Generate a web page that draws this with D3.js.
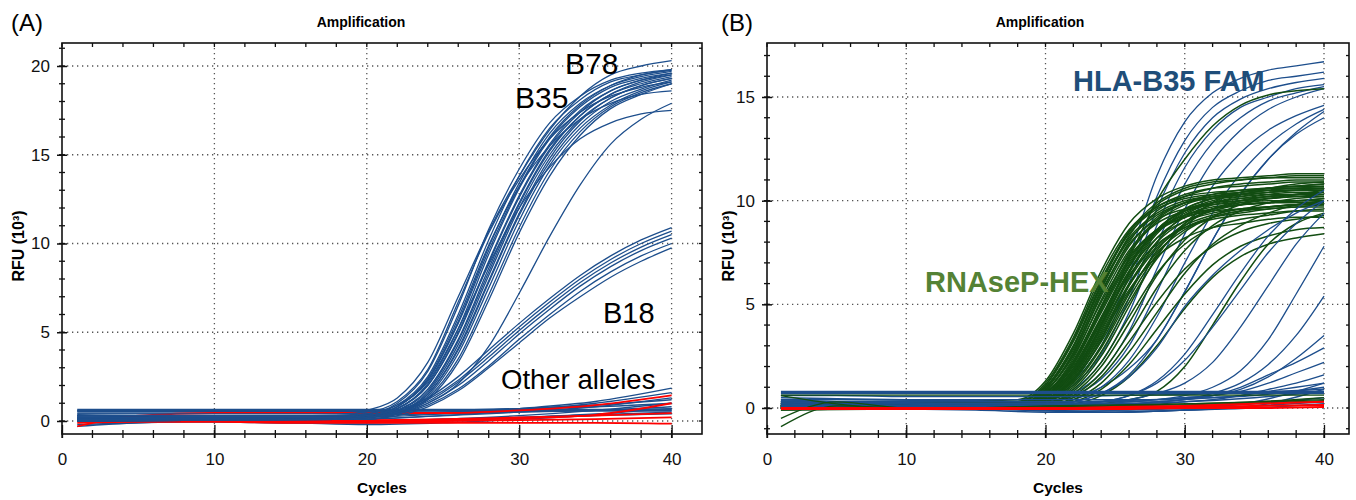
<!DOCTYPE html>
<html>
<head>
<meta charset="utf-8">
<script src="https://cdn.jsdelivr.net/npm/d3@7"></script>
<style>
  body { margin: 0; background: #fff; }
  svg { display: block; font-family: "Liberation Sans Narrow", "Arial Narrow", "Liberation Sans", Arial, sans-serif; }
  .big { font-family: "Liberation Sans", Arial, sans-serif; }
</style>
</head>
<body>
<svg id="chart" width="1356" height="500"></svg>
<script>
// ---- data (RFU x 10^3) ----
const xTicks = [0, 10, 20, 30, 40];
const yTicksA = [0, 5, 10, 15, 20];
const yTicksB = [0, 5, 10, 15];

const cyclesGrowth = [1, 18, 20, 22, 24, 26, 28, 30, 32, 34, 36, 38, 40];
const cyclesFlat = [1, 5, 10, 15, 20, 25, 30, 35, 40];

// panel A: B35 / B78 curves (on cyclesGrowth)
const b35Curves = [
  [0.1, 0.2, 0.6, 1.3, 3.3, 7.0, 10.7, 13.8, 16.4, 18.3, 19.5, 20.0, 20.3],
  [0.3, 0.3, 0.4, 1.0, 2.8, 6.5, 10.8, 14.2, 16.8, 18.3, 19.2, 19.6, 19.8],
  [0.3, 0.3, 0.4, 0.9, 2.5, 6.0, 10.2, 13.8, 16.5, 18.1, 19.1, 19.5, 19.75],
  [0.2, 0.2, 0.3, 0.8, 2.3, 5.6, 9.8, 13.4, 16.2, 17.9, 18.9, 19.4, 19.7],
  [0.2, 0.2, 0.3, 0.7, 2.1, 5.2, 9.4, 13.1, 15.9, 17.7, 18.8, 19.3, 19.6],
  [0.1, 0.2, 0.3, 0.7, 2.0, 5.0, 9.0, 12.7, 15.6, 17.5, 18.6, 19.2, 19.5],
  [0.1, 0.1, 0.2, 0.6, 1.8, 4.6, 8.6, 12.3, 15.3, 17.2, 18.4, 19.0, 19.4],
  [0.1, 0.1, 0.2, 0.5, 1.6, 4.3, 8.2, 12.0, 15.0, 17.0, 18.2, 18.9, 19.3],
  [0.0, 0.1, 0.2, 0.5, 1.5, 4.0, 7.8, 11.6, 14.6, 16.7, 18.0, 18.7, 19.2],
  [0.0, 0.1, 0.2, 0.5, 1.4, 3.8, 7.5, 11.3, 14.4, 16.5, 17.8, 18.6, 19.1],
  [0.0, 0.1, 0.1, 0.4, 1.3, 3.5, 7.1, 10.9, 14.1, 16.3, 17.7, 18.5, 19.0],
  [0.0, 0.1, 0.1, 0.4, 1.2, 3.3, 6.8, 10.6, 13.8, 16.1, 17.6, 18.4, 19.0],
  [0.4, 0.4, 0.5, 1.1, 2.9, 6.7, 10.6, 13.6, 15.9, 17.4, 18.3, 18.8, 19.1],
  [0.2, 0.2, 0.3, 0.8, 2.4, 5.8, 9.9, 13.2, 15.5, 17.0, 17.9, 18.4, 18.6],
  [0.3, 0.3, 0.4, 0.9, 2.2, 5.2, 8.8, 12.0, 14.3, 15.9, 16.8, 17.3, 17.5],
  [0.2, 0.2, 0.2, 0.4, 1.0, 2.1, 4.2, 7.2, 10.4, 13.3, 15.6, 17.0, 17.9],
  [0.2, 0.2, 0.3, 0.8, 2.3, 5.5, 9.6, 13.2, 16.0, 17.8, 18.9, 19.5, 19.8],
  [0.1, 0.2, 0.3, 0.7, 2.0, 4.9, 8.9, 12.6, 15.5, 17.4, 18.6, 19.2, 19.6],
  [0.1, 0.1, 0.2, 0.6, 1.7, 4.5, 8.4, 12.2, 15.2, 17.2, 18.4, 19.1, 19.5],
  [0.0, 0.1, 0.2, 0.5, 1.5, 4.1, 7.9, 11.7, 14.8, 16.9, 18.2, 18.9, 19.3]
];
// panel A: B18 curves (on cyclesGrowth)
const b18Curves = [
  [0.2, 0.2, 0.3, 0.6, 1.3, 2.5, 4.0, 5.5, 6.9, 8.2, 9.3, 10.2, 10.9],
  [0.2, 0.2, 0.3, 0.5, 1.2, 2.3, 3.8, 5.3, 6.7, 8.0, 9.1, 10.0, 10.7],
  [0.1, 0.1, 0.2, 0.5, 1.1, 2.2, 3.6, 5.1, 6.5, 7.8, 8.9, 9.8, 10.5],
  [0.1, 0.1, 0.2, 0.4, 1.0, 2.0, 3.4, 4.9, 6.3, 7.6, 8.7, 9.6, 10.3],
  [0.1, 0.1, 0.2, 0.4, 0.9, 1.8, 3.1, 4.6, 6.0, 7.3, 8.4, 9.3, 10.0],
  [0.0, 0.1, 0.1, 0.3, 0.8, 1.7, 3.0, 4.4, 5.8, 7.0, 8.1, 9.0, 9.75]
];
// panel A: other alleles, blue (on cyclesFlat)
const otherBlueA = [
  [0.6, 0.6, 0.6, 0.6, 0.6, 0.6, 0.6, 0.6, 0.6],
  [0.55, 0.55, 0.55, 0.55, 0.55, 0.6, 0.7, 0.8, 1.0],
  [0.3, 0.25, 0.2, 0.2, 0.3, 0.5, 0.7, 0.9, 1.2],
  [0.2, 0.15, 0.1, 0.1, 0.2, 0.4, 0.7, 1.1, 1.85],
  [0.1, 0.1, 0.05, 0.0, 0.1, 0.3, 0.6, 1.0, 1.6],
  [-0.3, -0.1, 0.0, 0.0, 0.1, 0.3, 0.5, 0.8, 1.3],
  [0.0, 0.0, -0.05, -0.1, -0.1, 0.1, 0.3, 0.6, 1.0],
  [0.2, 0.1, 0.0, -0.1, -0.1, 0.0, 0.2, 0.4, 0.7],
  [0.35, 0.3, 0.3, 0.3, 0.35, 0.4, 0.5, 0.6, 0.8],
  [0.05, 0.0, 0.0, 0.0, 0.0, 0.1, 0.2, 0.35, 0.5],
  [0.45, 0.45, 0.45, 0.45, 0.45, 0.5, 0.55, 0.6, 0.7],
  [-0.2, -0.1, -0.05, -0.1, -0.2, -0.1, 0.1, 0.3, 0.4]
];
// panel A: red traces (on cyclesFlat)
const redA = [
  [-0.3, 0.3, 0.45, 0.45, 0.45, 0.45, 0.6, 0.9, 1.45],
  [0.0, 0.0, 0.0, 0.0, 0.0, 0.0, 0.05, 0.1, 0.2],
  [-0.1, -0.05, -0.05, -0.1, -0.1, -0.1, -0.1, -0.1, -0.15],
  [0.05, 0.05, 0.05, 0.05, 0.05, 0.1, 0.2, 0.3, 0.45],
  [0.1, 0.05, 0.0, 0.0, 0.0, 0.05, 0.15, 0.35, 1.0]
];

// panel B: RNAseP-HEX, green (on cyclesGrowth)
const hexCurves = [
  [0.2, 0.4, 1.3, 3.6, 6.6, 8.9, 10.1, 10.7, 11.0, 11.1, 11.2, 11.3, 11.3],
  [0.1, 0.3, 1.1, 3.3, 6.2, 8.5, 9.7, 10.3, 10.6, 10.7, 10.8, 10.9, 10.9],
  [0.0, 0.3, 1.0, 3.0, 5.9, 8.2, 9.4, 10.0, 10.2, 10.3, 10.4, 10.5, 10.5],
  [0.2, 0.2, 0.9, 2.8, 5.6, 7.9, 9.1, 9.6, 9.9, 10.0, 10.1, 10.2, 10.2],
  [0.1, 0.2, 0.8, 2.6, 5.5, 8.0, 9.5, 10.2, 10.6, 10.8, 10.9, 11.0, 11.0],
  [-0.1, 0.2, 0.8, 2.5, 5.1, 7.3, 8.6, 9.2, 9.5, 9.6, 9.7, 9.8, 9.8],
  [0.3, 0.2, 0.7, 2.3, 4.9, 7.4, 9.0, 9.8, 10.2, 10.4, 10.6, 10.7, 10.7],
  [0.0, 0.1, 0.6, 2.1, 4.6, 7.0, 8.5, 9.2, 9.6, 9.8, 9.9, 10.0, 10.0],
  [0.1, 0.1, 0.6, 2.0, 4.4, 6.9, 8.6, 9.5, 9.9, 10.1, 10.3, 10.4, 10.4],
  [0.2, 0.1, 0.5, 1.8, 4.1, 6.4, 7.9, 8.7, 9.1, 9.3, 9.4, 9.5, 9.5],
  [0.0, 0.1, 0.5, 1.7, 4.0, 6.6, 8.5, 9.6, 10.1, 10.4, 10.6, 10.7, 10.8],
  [0.1, 0.1, 0.4, 1.5, 3.7, 6.2, 8.0, 9.0, 9.5, 9.8, 9.9, 10.0, 10.1],
  [-0.1, 0.0, 0.4, 1.4, 3.4, 5.7, 7.3, 8.2, 8.7, 8.9, 9.1, 9.2, 9.2],
  [0.2, 0.1, 0.4, 1.3, 3.3, 5.9, 8.0, 9.3, 9.9, 10.2, 10.4, 10.5, 10.6],
  [0.0, 0.0, 0.3, 1.2, 3.0, 5.5, 7.6, 8.9, 9.6, 9.9, 10.1, 10.2, 10.3],
  [0.1, 0.0, 0.3, 1.0, 2.7, 5.1, 7.2, 8.5, 9.2, 9.5, 9.7, 9.8, 9.9],
  [0.0, 0.0, 0.3, 0.9, 2.5, 4.9, 7.3, 8.9, 9.9, 10.4, 10.6, 10.8, 10.9],
  [0.1, 0.0, 0.2, 0.8, 2.2, 4.4, 6.5, 7.9, 8.7, 9.1, 9.3, 9.5, 9.6],
  [0.0, 0.0, 0.2, 0.7, 2.0, 4.1, 6.4, 8.1, 9.2, 9.8, 10.1, 10.3, 10.5],
  [0.2, 0.0, 0.2, 0.6, 1.7, 3.6, 5.8, 7.6, 8.8, 9.5, 9.9, 10.1, 10.2],
  [0.0, 0.0, 0.1, 0.5, 1.5, 3.2, 5.1, 6.7, 7.8, 8.5, 8.9, 9.1, 9.3],
  [0.1, 0.0, 0.1, 0.4, 1.2, 2.7, 4.6, 6.5, 7.9, 8.8, 9.4, 9.8, 10.0],
  [0.0, 0.0, 0.1, 0.3, 0.9, 2.1, 3.8, 5.5, 6.9, 7.8, 8.3, 8.6, 8.7],
  [0.1, 0.3, 1.0, 3.0, 6.0, 8.5, 9.9, 10.6, 10.9, 11.0, 11.1, 11.1, 11.1],
  [0.0, 0.2, 0.7, 2.2, 4.8, 7.2, 8.6, 9.3, 9.6, 9.8, 9.9, 9.9, 9.9],
  [0.1, 0.2, 0.6, 1.9, 4.3, 6.8, 8.6, 9.6, 10.1, 10.3, 10.5, 10.6, 10.6],
  [0.0, 0.1, 0.5, 1.6, 3.8, 6.3, 8.2, 9.2, 9.8, 10.0, 10.2, 10.3, 10.3],
  [0.1, 0.1, 0.4, 1.4, 3.5, 5.9, 7.7, 8.7, 9.2, 9.4, 9.6, 9.7, 9.7],
  [0.0, 0.0, 0.0, 0.1, 0.2, 0.4, 0.8, 2.0, 4.0, 6.1, 7.9, 8.9, 9.4],
  [0.0, 0.0, 0.1, 0.2, 0.6, 1.5, 3.0, 4.8, 6.3, 7.3, 7.9, 8.2, 8.4],
  [0.1, 0.2, 0.6, 1.7, 4.0, 7.2, 10.0, 12.0, 13.6, 14.6, 15.1, 15.3, 15.4],
  [0.1, 0.3, 1.2, 3.4, 6.4, 8.6, 9.7, 10.2, 10.4, 10.5, 10.6, 10.6, 10.6],
  [0.0, 0.2, 0.9, 2.9, 5.8, 8.1, 9.3, 9.9, 10.1, 10.2, 10.3, 10.3, 10.4],
  [0.1, 0.2, 0.8, 2.7, 5.7, 8.3, 9.8, 10.5, 10.8, 11.0, 11.1, 11.2, 11.2],
  [0.0, 0.2, 0.7, 2.4, 5.2, 7.6, 8.9, 9.5, 9.8, 9.9, 10.0, 10.0, 10.1],
  [0.1, 0.1, 0.6, 2.2, 4.9, 7.5, 9.1, 9.9, 10.3, 10.5, 10.6, 10.7, 10.8],
  [0.0, 0.1, 0.6, 2.1, 4.7, 7.1, 8.6, 9.3, 9.7, 9.8, 9.9, 10.0, 10.0],
  [0.1, 0.1, 0.5, 1.9, 4.3, 6.8, 8.5, 9.4, 9.9, 10.1, 10.2, 10.3, 10.4],
  [0.0, 0.1, 0.5, 1.8, 4.2, 6.6, 8.2, 9.0, 9.4, 9.6, 9.7, 9.8, 9.8],
  [0.1, 0.1, 0.4, 1.6, 3.9, 6.5, 8.4, 9.5, 10.0, 10.3, 10.5, 10.6, 10.7],
  [0.0, 0.1, 0.4, 1.5, 3.6, 6.0, 7.8, 8.8, 9.3, 9.6, 9.7, 9.8, 9.9],
  [0.1, 0.0, 0.3, 1.3, 3.2, 5.6, 7.5, 8.6, 9.2, 9.5, 9.6, 9.7, 9.8],
  [0.0, 0.0, 0.3, 1.1, 2.9, 5.3, 7.4, 8.8, 9.6, 10.0, 10.2, 10.3, 10.4],
  [0.1, 0.3, 1.1, 3.2, 6.1, 8.4, 9.6, 10.1, 10.3, 10.4, 10.5, 10.5, 10.5],
  [0.0, 0.2, 0.8, 2.6, 5.4, 7.8, 9.2, 9.9, 10.2, 10.3, 10.4, 10.5, 10.5]
];
// panel B: HLA-B35 FAM, blue (on cyclesGrowth)
const famCurves = [
  [0.3, 0.4, 0.8, 1.8, 4.0, 7.3, 11.2, 13.8, 15.2, 15.9, 16.3, 16.5, 16.7],
  [0.3, 0.3, 0.6, 1.4, 3.3, 6.5, 10.2, 12.9, 14.5, 15.3, 15.8, 16.0, 16.2],
  [0.2, 0.3, 0.6, 1.3, 3.0, 6.0, 9.6, 12.3, 14.0, 14.9, 15.4, 15.7, 15.9],
  [0.2, 0.2, 0.5, 1.1, 2.6, 5.3, 8.8, 11.6, 13.4, 14.5, 15.0, 15.4, 15.6],
  [0.3, 0.2, 0.4, 0.9, 2.2, 4.6, 7.9, 10.8, 12.8, 14.0, 14.8, 15.2, 15.5],
  [0.2, 0.2, 0.3, 0.7, 1.7, 3.7, 6.7, 9.6, 11.9, 13.4, 14.4, 15.0, 15.4],
  [0.2, 0.1, 0.3, 0.6, 1.4, 3.0, 5.6, 8.4, 10.7, 12.3, 13.4, 14.1, 14.6],
  [0.1, 0.1, 0.2, 0.4, 1.0, 2.3, 4.4, 7.0, 9.4, 11.3, 12.7, 13.7, 14.4],
  [0.1, 0.1, 0.2, 0.3, 0.7, 1.6, 3.3, 5.6, 8.1, 10.3, 12.0, 13.3, 14.3],
  [0.2, 0.2, 0.3, 0.5, 1.0, 1.9, 3.3, 5.6, 8.1, 10.3, 12.0, 13.2, 14.0],
  [0.1, 0.1, 0.1, 0.2, 0.3, 0.6, 1.3, 2.6, 4.5, 6.5, 8.3, 9.6, 10.5],
  [0.1, 0.1, 0.1, 0.2, 0.3, 0.6, 1.2, 2.3, 3.9, 5.7, 7.5, 8.9, 10.0],
  [0.1, 0.1, 0.1, 0.3, 0.7, 1.5, 2.9, 4.9, 6.4, 7.6, 8.6, 9.4, 10.0],
  [0.2, 0.2, 0.2, 0.2, 0.3, 0.4, 0.7, 1.2, 2.2, 3.9, 5.9, 7.9, 9.4],
  [0.2, 0.2, 0.2, 0.2, 0.2, 0.3, 0.4, 0.6, 1.0, 1.8, 3.3, 5.5, 7.8],
  [0.1, 0.1, 0.1, 0.1, 0.2, 0.2, 0.3, 0.4, 0.7, 1.2, 2.1, 3.5, 5.4],
  [0.3, 0.3, 0.3, 0.3, 0.3, 0.3, 0.4, 0.5, 0.6, 0.9, 1.5, 2.4, 3.5],
  [0.2, 0.2, 0.2, 0.2, 0.2, 0.2, 0.3, 0.4, 0.6, 1.0, 1.6, 2.2, 2.9],
  [0.4, 0.4, 0.4, 0.4, 0.4, 0.4, 0.4, 0.5, 0.6, 0.8, 1.2, 1.7, 2.2],
  [0.1, 0.1, 0.1, 0.1, 0.1, 0.2, 0.2, 0.3, 0.4, 0.6, 0.9, 1.2, 1.6],
  [0.3, 0.3, 0.3, 0.3, 0.3, 0.3, 0.3, 0.4, 0.5, 0.6, 0.8, 1.0, 1.2]
];
// panel B: flat traces (on cyclesFlat)
const flatBlueB = [
  [0.4, 0.3, 0.2, 0.1, 0.0, -0.1, 0.0, 0.2, 0.5],
  [0.3, 0.2, 0.1, 0.0, -0.1, -0.2, -0.1, 0.1, 0.3],
  [0.2, 0.1, 0.0, 0.0, -0.15, -0.2, -0.1, 0.1, 0.9],
  [0.1, 0.05, 0.0, -0.05, -0.1, -0.1, 0.0, 0.3, 1.2],
  [0.35, 0.3, 0.25, 0.2, 0.2, 0.2, 0.3, 0.5, 0.8],
  [0.5, 0.45, 0.4, 0.35, 0.3, 0.35, 0.45, 0.6, 1.0],
  [0.6, 0.6, 0.55, 0.55, 0.55, 0.6, 0.65, 0.75, 0.9],
  [0.0, 0.0, -0.05, -0.1, -0.2, -0.2, -0.1, 0.0, 0.2],
  [0.75, 0.75, 0.75, 0.75, 0.75, 0.75, 0.75, 0.75, 0.75]
];
const flatGreenB = [
  [0.62, 0.62, 0.62, 0.62, 0.62, 0.62, 0.62, 0.62, 0.62],
  [-0.9, 0.1, 0.0, -0.05, 0.0, 0.1, 0.2, 0.3, 0.4],
  [-0.5, 0.3, 0.0, 0.0, 0.05, 0.1, 0.15, 0.25, 0.35],
  [0.6, 0.2, -0.05, 0.0, 0.1, 0.15, 0.2, 0.3, 0.5]
];
const redB = [
  [0.0, 0.0, 0.0, 0.0, 0.0, 0.05, 0.1, 0.2, 0.3],
  [0.0, 0.0, 0.0, 0.0, 0.0, 0.0, 0.05, 0.1, 0.15],
  [-0.05, -0.05, -0.05, -0.05, -0.05, -0.05, 0.0, 0.0, 0.05]
];

// ---- drawing ----
const blue = "#1d4e8c";
const green = "#124d12";
const red = "#ff0000";

const svg = d3.select("#chart");

function drawPanel(p) {
  const x = d3.scaleLinear().domain([0, 40]).range([p.x0, p.x40]);
  const y = d3.scaleLinear().domain([0, p.yRef]).range([p.y0, p.yRefPx]);
  const g = svg.append("g");

  svg.append("clipPath").attr("id", "clip-" + p.id)
    .append("rect")
    .attr("x", p.left).attr("y", p.top)
    .attr("width", p.right - p.left).attr("height", p.bottom - p.top);

  // dotted grid
  const grid = g.append("g")
    .attr("stroke", "#555")
    .attr("stroke-width", 1.3)
    .attr("stroke-dasharray", "1.3,3.7");
  grid.selectAll(".gx").data(xTicks.filter(d => d > 0)).join("line")
    .attr("x1", d => x(d)).attr("x2", d => x(d))
    .attr("y1", p.top).attr("y2", p.bottom);
  grid.selectAll(".gy").data(p.yTicks).join("line")
    .attr("x1", p.left).attr("x2", p.right)
    .attr("y1", d => y(d)).attr("y2", d => y(d));

  // traces
  const plot = g.append("g").attr("clip-path", `url(#clip-${p.id})`);
  p.groups.forEach(grp => {
    const line = d3.line()
      .x((v, i) => x(grp.cycles[i]))
      .y(v => y(v))
      .curve(d3.curveMonotoneX);
    plot.append("g").selectAll("path").data(grp.rows).join("path")
      .attr("d", line)
      .attr("fill", "none")
      .attr("stroke", grp.color)
      .attr("stroke-width", (d, i) => (grp.thick && i === grp.rows.length - 1 ? grp.thick : grp.width));
  });

  // frame
  g.append("rect")
    .attr("x", p.left).attr("y", p.top)
    .attr("width", p.right - p.left).attr("height", p.bottom - p.top)
    .attr("fill", "none").attr("stroke", "#111").attr("stroke-width", 1.6);

  const ticks = g.append("g").attr("stroke", "#111").attr("stroke-width", 1.3);
  const minorY = d3.range(p.yMinTick, p.yMaxTick + 1);
  const minorX = d3.range(0, 42, 2);
  // left minor ticks (crossing)
  ticks.selectAll(".ly").data(minorY).join("line")
    .attr("x1", p.left - 3).attr("x2", p.left + 3)
    .attr("y1", d => y(d)).attr("y2", d => y(d));
  // right inward ticks
  ticks.selectAll(".ry").data(minorY).join("line")
    .attr("x1", p.right - 3).attr("x2", p.right)
    .attr("y1", d => y(d)).attr("y2", d => y(d));
  // bottom minor ticks (crossing)
  ticks.selectAll(".bx").data(minorX).join("line")
    .attr("x1", d => x(d)).attr("x2", d => x(d))
    .attr("y1", p.bottom - 4).attr("y2", p.bottom + 4);
  // top inward ticks
  ticks.selectAll(".tx").data(minorX).join("line")
    .attr("x1", d => x(d)).attr("x2", d => x(d))
    .attr("y1", p.top).attr("y2", p.top + 4);

  // labelled axes
  const ax = g.append("g")
    .attr("transform", `translate(0,${p.bottom})`)
    .call(d3.axisBottom(x).tickValues(xTicks).tickSize(4).tickPadding(15).tickFormat(d3.format("d")));
  ax.select(".domain").remove();
  ax.selectAll(".tick line").attr("y1", -9).attr("stroke", "#111").attr("stroke-width", 1.3);
  ax.selectAll("text").attr("font-size", 17).attr("fill", "#111")
    .style("font-family", "\"Liberation Sans Narrow\", \"Arial Narrow\", sans-serif");

  const ay = g.append("g")
    .attr("transform", `translate(${p.left},0)`)
    .call(d3.axisLeft(y).tickValues(p.yTicks).tickSize(5).tickPadding(7).tickFormat(d3.format("d")));
  ay.select(".domain").remove();
  ay.selectAll(".tick line").attr("x1", 5).attr("stroke", "#111").attr("stroke-width", 1.5);
  ay.selectAll("text").attr("font-size", 17).attr("fill", "#111")
    .style("font-family", "\"Liberation Sans Narrow\", \"Arial Narrow\", sans-serif");

  // titles
  g.append("text").attr("x", p.titleX).attr("y", 27)
    .attr("text-anchor", "middle").attr("font-size", 14).attr("font-weight", "bold")
    .text("Amplification");
  g.append("text").attr("x", (p.left + p.right) / 2).attr("y", 493)
    .attr("text-anchor", "middle").attr("font-size", 15.5).attr("font-weight", "bold")
    .text("Cycles");
  g.append("text")
    .attr("transform", `translate(${p.rfuX},246) rotate(-90)`)
    .attr("text-anchor", "middle").attr("font-size", 16).attr("font-weight", "bold")
    .text("RFU (10³)");
  g.append("text").attr("class", "big").attr("x", p.tagX).attr("y", 31)
    .attr("font-size", 24).text(p.tag);

  p.labels.forEach(l => {
    g.append("text").attr("class", "big")
      .attr("x", l.x).attr("y", l.y)
      .attr("font-size", l.size)
      .attr("font-weight", l.bold ? "bold" : "normal")
      .attr("fill", l.color)
      .text(l.text);
  });
}

drawPanel({
  id: "a", tag: "(A)", tagX: 11,
  left: 62, right: 702, top: 43, bottom: 434,
  x0: 62, x40: 671.6, y0: 421, yRef: 20, yRefPx: 66,
  yTicks: yTicksA, yMinTick: 0, yMaxTick: 21,
  titleX: 361, rfuX: 24,
  groups: [
    { rows: otherBlueA, cycles: cyclesFlat, color: blue, width: 1.4 },
    { rows: [otherBlueA[0]], cycles: cyclesFlat, color: blue, width: 3 },
    { rows: redA, cycles: cyclesFlat, color: red, width: 1.8 },
    { rows: b18Curves, cycles: cyclesGrowth, color: blue, width: 1.3 },
    { rows: b35Curves, cycles: cyclesGrowth, color: blue, width: 1.3 }
  ],
  labels: [
    { text: "B78", x: 565, y: 74, size: 30, color: "#000" },
    { text: "B35", x: 515, y: 108, size: 30, color: "#000" },
    { text: "B18", x: 603, y: 323, size: 29, color: "#000" },
    { text: "Other alleles", x: 501, y: 389, size: 27.5, color: "#000" }
  ]
});

drawPanel({
  id: "b", tag: "(B)", tagX: 721,
  left: 767, right: 1349, top: 43, bottom: 434,
  x0: 767, x40: 1324, y0: 408, yRef: 15, yRefPx: 97,
  yTicks: yTicksB, yMinTick: -1, yMaxTick: 17,
  titleX: 1040, rfuX: 734,
  groups: [
    { rows: famCurves.slice(0, 10), cycles: cyclesGrowth, color: blue, width: 1.3 },
    { rows: hexCurves, cycles: cyclesGrowth, color: green, width: 1.5 },
    { rows: famCurves.slice(10), cycles: cyclesGrowth, color: blue, width: 1.3 },
    { rows: flatBlueB, cycles: cyclesFlat, color: blue, width: 1.5, thick: 3.5 },
    { rows: flatGreenB, cycles: cyclesFlat, color: green, width: 1.3 },
    { rows: redB, cycles: cyclesFlat, color: red, width: 2 }
  ],
  labels: [
    { text: "HLA-B35 FAM", x: 1073, y: 91, size: 29, bold: true, color: "#1f4e79" },
    { text: "RNAseP-HEX", x: 925, y: 292, size: 29, bold: true, color: "#548235" }
  ]
});
</script>
</body>
</html>
